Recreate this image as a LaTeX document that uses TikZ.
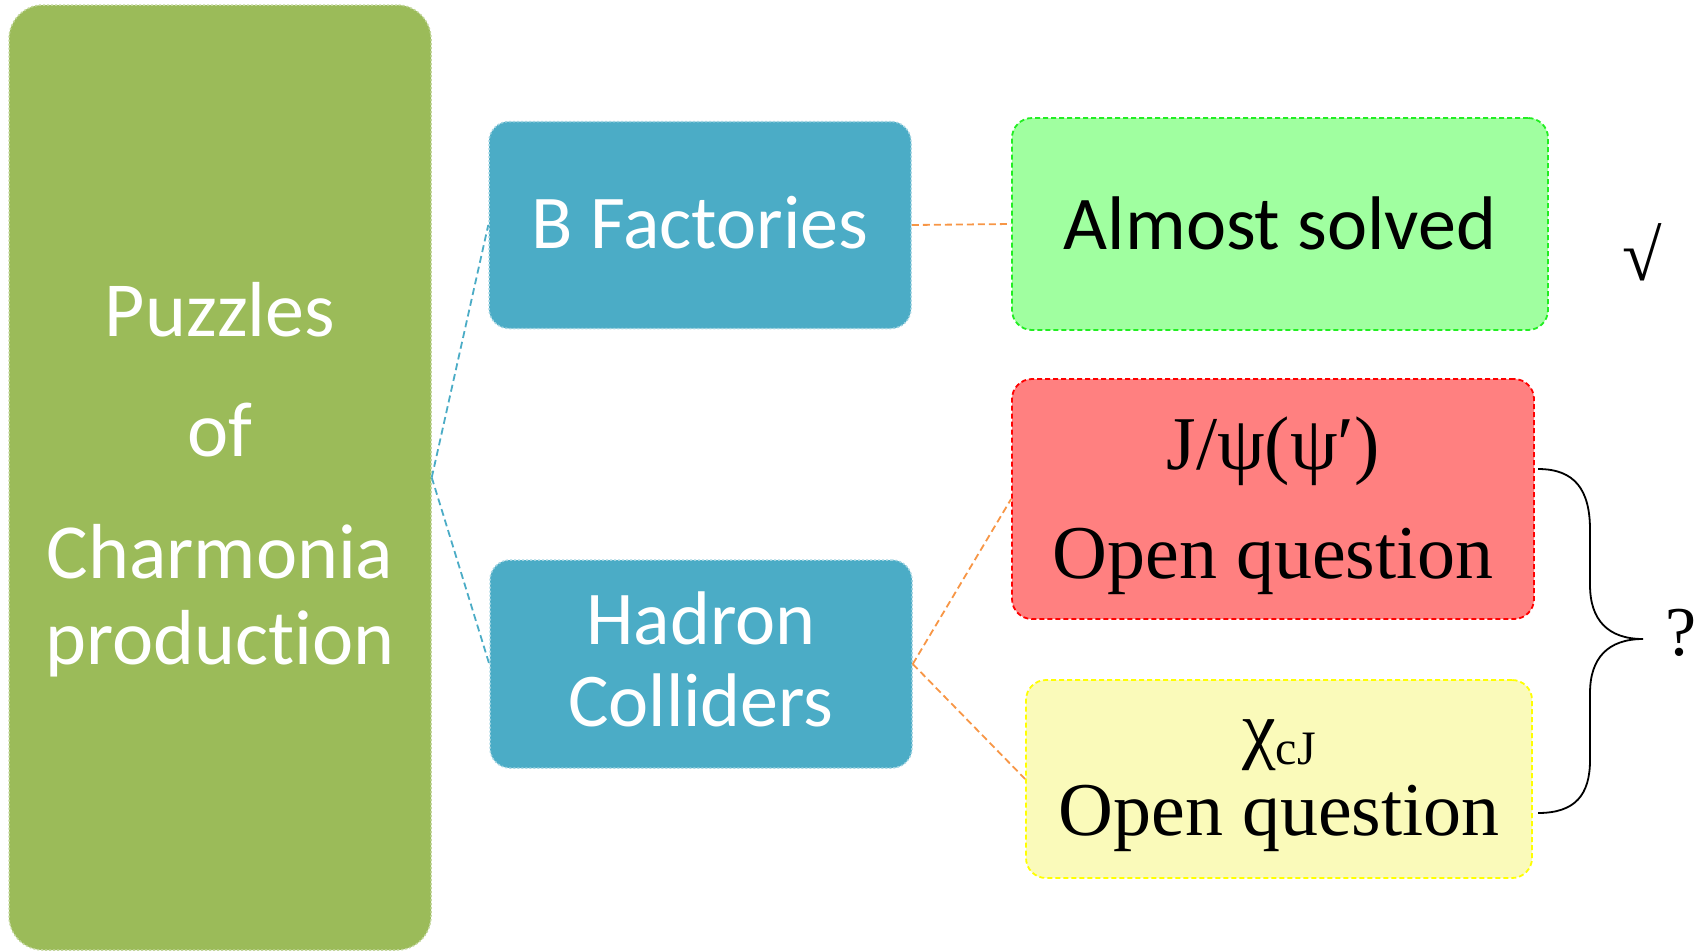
\documentclass[tikz,border=0pt]{standalone}
\usepackage{fontspec}
\setmainfont{Liberation Serif}
\newfontfamily\carl[Ligatures=NoCommon]{Carlito}
\newfontfamily\tms{Liberation Serif}
\definecolor{pgreen}{HTML}{9BBB59}
\definecolor{pgreenb}{HTML}{C2D69B}
\definecolor{pblue}{HTML}{4BACC6}
\definecolor{pblueb}{HTML}{A5D5E2}
\definecolor{porange}{HTML}{F79646}
\definecolor{lgreen}{HTML}{A0FFA0}
\definecolor{lgreenb}{HTML}{22EE22}
\definecolor{lred}{HTML}{FF8080}
\definecolor{lredb}{HTML}{FF0000}
\definecolor{lyellow}{HTML}{FAFABA}
\definecolor{lyellowb}{HTML}{FFFF00}
\begin{document}
\begin{tikzpicture}[x=1pt,y=-1pt,
  box/.style={rectangle, inner sep=0pt, line width=1.5pt},
  mainbox/.style={box, rounded corners=34pt, fill=pgreen, draw=pgreenb, dash pattern=on 2pt off 2pt},
  midbox/.style={box, rounded corners=20pt, fill=pblue, draw=pblueb, dash pattern=on 2pt off 2pt},
  endbox/.style={box, rounded corners=20pt, dash pattern=on 5pt off 3pt, line width=1.8pt},
  wtext/.style={anchor=base, inner sep=0pt, text=white, font=\carl\fontsize{78}{78}\selectfont},
  btext/.style={anchor=base, inner sep=0pt, text=white, font=\carl\fontsize{76}{76}\selectfont},
  ktext/.style={anchor=base, inner sep=0pt, text=black, font=\carl\fontsize{76}{76}\selectfont},
  ttext/.style={anchor=base, inner sep=0pt, text=black, font=\tms\fontsize{76}{76}\selectfont},
  blink/.style={draw=pblue, line width=1.8pt, dash pattern=on 7pt off 4pt},
  olink/.style={draw=porange, line width=1.8pt, dash pattern=on 7pt off 4pt}
]
\useasboundingbox (0,0) rectangle (1704,951);

% boxes
\node[mainbox, minimum width=422pt, minimum height=945pt] (pz) at (220,477.5) {};
\node[midbox, minimum width=422pt, minimum height=207pt] (bf) at (700,225) {};
\node[midbox, minimum width=422pt, minimum height=208pt] (hc) at (701,664) {};
\node[endbox, fill=lgreen, draw=lgreenb, minimum width=536pt, minimum height=212pt] (as) at (1280,224) {};
\node[endbox, fill=lred, draw=lredb, minimum width=522pt, minimum height=240pt] (jp) at (1273,499) {};
\node[endbox, fill=lyellow, draw=lyellowb, minimum width=506pt, minimum height=198pt] (ch) at (1279,779) {};

% texts
\node[wtext] (t1) at (220,336) {Puzzles};
\node[wtext] (t2) at (220,456) {of};
\node[wtext] (t3) at (220,578) {Charmonia};
\node[wtext] (t4) at (220,664) {production};
\node[btext] (t5) at (700,248) {B Factories};
\node[btext] (t6) at (701,644) {Hadron};
\node[btext] (t7) at (701,726) {Colliders};
\node[ktext] (t8) at (1280,249) {Almost solved};
\node[ttext] (t9) at (1273,469) {J/ψ(ψ′)};
\node[ttext] (t10) at (1273,578) {Open question};
\node[ttext] (t11) at (1279,754) {χ{\fontsize{48}{48}\selectfont\raisebox{-10pt}{cJ}}};
\node[ttext] (t12) at (1279,835) {Open question};
\node[anchor=center, inner sep=0pt, font=\tms\bfseries\fontsize{72}{72}\selectfont] (ok) at (1642,252) {√};
\node[anchor=center, inner sep=0pt, font=\tms\fontsize{70}{70}\selectfont] (q) at (1681,633) {?};

% connectors
\draw[blink] (pz.east) -- (bf.west);
\draw[blink] (pz.east) -- (hc.west);
\draw[olink] (bf.east) -- (as.west);
\draw[olink] (hc.east) -- (jp.west);
\draw[olink] (hc.east) -- (ch.west);

% brace
\coordinate (b1) at (1538,469);
\coordinate (b2) at (1538,813);
\coordinate (tip) at (1643,639);
\draw[line width=1.8pt]
  (b1) .. controls (1575,469) and (1590,490) .. (1590,530) -- (1590,585)
       .. controls (1590,620) and (1608,639) .. (tip)
       .. controls (1608,639) and (1590,658) .. (1590,693) -- (1590,760)
       .. controls (1590,795) and (1575,813) .. (b2);
\end{tikzpicture}
\end{document}
